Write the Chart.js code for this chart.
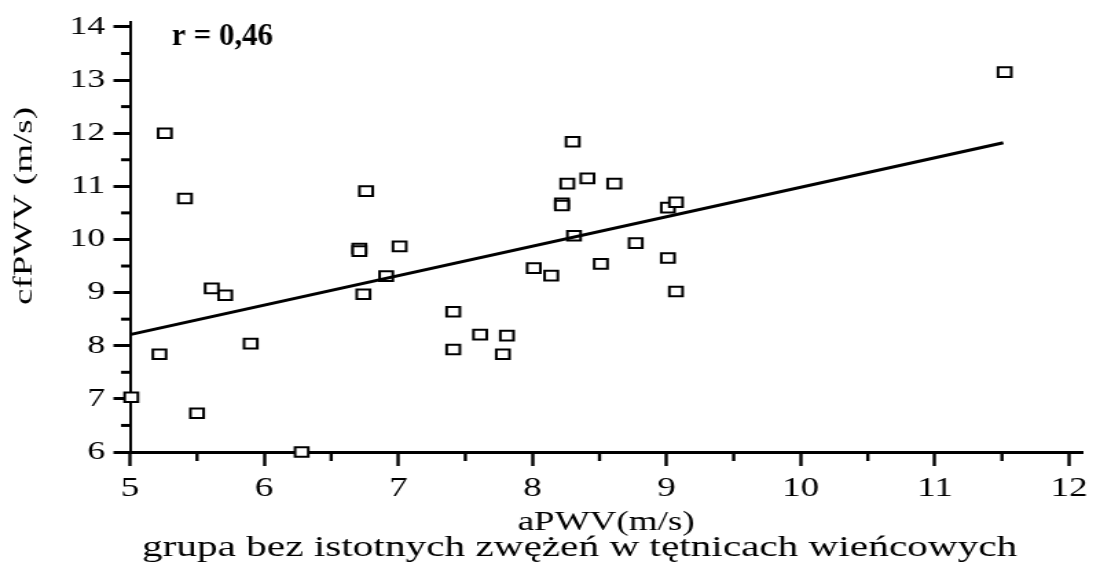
<!DOCTYPE html>
<html>
<head>
<meta charset="utf-8">
<script src="https://cdn.jsdelivr.net/npm/chart.js@4/dist/chart.umd.min.js"></script>
<style>
  html, body { margin: 0; padding: 0; background: #fff; }
</style>
</head>
<body>
<!-- drawn 800 wide, shown 1100 wide: gives the wide serif lettering -->
<canvas id="chart" width="800" height="570" style="width:1100px;height:570px"></canvas>
<script>
// measurements
const aPWV  = [5.01, 5.22, 5.26, 5.41, 5.50, 5.61, 5.71, 5.90, 6.28, 6.71, 6.71, 6.74,
               6.76, 6.91, 7.01, 7.41, 7.41, 7.61, 7.78, 7.81, 8.01, 8.14, 8.22, 8.22,
               8.26, 8.30, 8.31, 8.41, 8.51, 8.61, 8.77, 9.01, 9.01, 9.07, 9.07, 11.52];
const cfPWV = [7.03, 7.84, 12.00, 10.77, 6.73, 9.08, 8.95, 8.04, 6.00, 9.83, 9.78, 8.97,
               10.91, 9.31, 9.87, 8.64, 7.93, 8.21, 7.84, 8.19, 9.46, 9.32, 10.68, 10.64,
               11.05, 11.84, 10.07, 11.15, 9.54, 11.05, 9.93, 10.60, 9.65, 10.70, 9.02, 13.15];

// regression line ends
const trendX = [5.0, 11.51];
const trendY = [8.21, 11.82];

const xTicks = [5, 6, 7, 8, 9, 10, 11, 12];
const yTicks = [6, 7, 8, 9, 10, 11, 12, 13, 14];

const rLabel = 'r = 0,46';
const xTitle = 'aPWV(m/s)';
const yTitle = 'cfPWV (m/s)';
const groupTitle = 'grupa bez istotnych zwężeń w tętnicach wieńcowych';

const STRETCH = 1100 / 800;
const FONT = "'Liberation Serif', 'Times New Roman', serif";

// minor ticks, correlation label, group caption and y title
const extras = {
  id: 'extras',
  afterDraw(chart) {
    const { ctx, chartArea, scales: { x, y } } = chart;
    ctx.save();
    ctx.strokeStyle = '#000';
    ctx.fillStyle = '#000';

    ctx.lineWidth = 2.4;
    xTicks.slice(0, -1).forEach(v => {
      const px = x.getPixelForValue(v + 0.5);
      ctx.beginPath();
      ctx.moveTo(px, chartArea.bottom);
      ctx.lineTo(px, chartArea.bottom + 9);
      ctx.stroke();
    });
    ctx.lineWidth = 3;
    yTicks.slice(0, -1).forEach(v => {
      const py = y.getPixelForValue(v + 0.5);
      ctx.beginPath();
      ctx.moveTo(chartArea.left, py);
      ctx.lineTo(chartArea.left - 6.5, py);
      ctx.stroke();
    });

    // r label is not widened, so undo the stretch
    ctx.save();
    ctx.scale(1 / STRETCH, 1);
    ctx.font = `bold 31px ${FONT}`;
    ctx.textAlign = 'left';
    ctx.textBaseline = 'alphabetic';
    ctx.fillText(rLabel, chartArea.left * STRETCH + 42, 45);
    ctx.restore();

    ctx.font = `30px ${FONT}`;
    ctx.textAlign = 'center';
    ctx.textBaseline = 'alphabetic';
    ctx.fillText(groupTitle, chartArea.left + 327, 556);

    // rotated title: long along its own direction, not widened across
    ctx.save();
    ctx.translate(18.2, 206);
    ctx.rotate(-Math.PI / 2);
    ctx.scale(1.42, 1 / STRETCH);
    ctx.font = `26px ${FONT}`;
    ctx.textAlign = 'center';
    ctx.textBaseline = 'middle';
    ctx.fillText(yTitle, 0, 0);
    ctx.restore();

    ctx.restore();
  }
};

new Chart(document.getElementById('chart'), {
  type: 'scatter',
  data: {
    datasets: [
      {
        type: 'line',
        data: trendX.map((v, i) => ({ x: v, y: trendY[i] })),
        borderColor: '#000',
        borderWidth: 3,
        pointRadius: 0,
        fill: false,
        tension: 0
      },
      {
        data: aPWV.map((v, i) => ({ x: v, y: cfPWV[i] })),
        pointStyle: 'rect',
        pointRadius: 6.8,
        pointBorderWidth: 2,
        pointBackgroundColor: '#fff',
        pointBorderColor: '#000',
        clip: false
      }
    ]
  },
  options: {
    responsive: false,
    devicePixelRatio: 1,
    animation: false,
    events: [],
    layout: { padding: { top: 18.65, right: 12.75, bottom: 0, left: 0 } },
    plugins: {
      legend: { display: false },
      tooltip: { enabled: false }
    },
    scales: {
      x: {
        type: 'linear',
        min: 5,
        max: 12.1,
        afterBuildTicks: s => { s.ticks = xTicks.map(v => ({ value: v })); },
        afterFit: s => { s.height = 118; },
        border: { display: true, color: '#000', width: 3 },
        grid: { drawOnChartArea: false, drawTicks: true, tickLength: 14, tickWidth: 2.4, tickColor: '#000', color: '#000' },
        ticks: { color: '#000', font: { family: FONT, size: 27 }, padding: 7, maxRotation: 0, autoSkip: false },
        title: { display: true, text: xTitle, color: '#000', font: { family: FONT, size: 27 }, padding: { top: 0, bottom: 31 } }
      },
      y: {
        type: 'linear',
        min: 6,
        max: 14.1,
        afterBuildTicks: s => { s.ticks = yTicks.map(v => ({ value: v })); },
        afterFit: s => { s.width = 94.5; },
        border: { display: true, color: '#000', width: 2 },
        grid: { drawOnChartArea: false, drawTicks: true, tickLength: 12, tickWidth: 3, tickColor: '#000', color: '#000' },
        ticks: { color: '#000', font: { family: FONT, size: 26 }, padding: 6, autoSkip: false }
      }
    }
  },
  plugins: [extras]
});
</script>
</body>
</html>
